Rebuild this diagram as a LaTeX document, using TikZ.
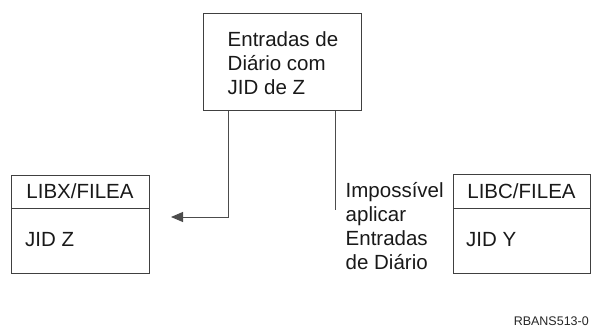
\documentclass[tikz,border=0pt]{standalone}
\usepackage{fontspec}
\setmainfont{Liberation Sans}
\usetikzlibrary{arrows.meta}
\begin{document}
\begin{tikzpicture}[x=1pt,y=-1pt,
  lbl/.style={inner sep=0pt, anchor=base west, align=left,
    font=\fontsize{20.5}{24}\selectfont, text=black!90},
  ctr/.style={inner sep=0pt, anchor=base,
    font=\fontsize{20.5}{24}\selectfont, text=black!90},
  box/.style={draw=black!75, line width=0.9pt, inner sep=0pt, anchor=north west},
  conn/.style={draw=black!70, line width=0.9pt},
  tip/.style={-{Triangle[length=12pt,width=10pt]}}]
\useasboundingbox (0,0) rectangle (591,327);
% top box
\node[box, minimum width=158pt, minimum height=97pt] (top) at (203,13) {};
\node[lbl] (toptxt) at (227.5,94.5) {Entradas de\\Diário com\\JID de Z};
% left box
\node[box, minimum width=138pt, minimum height=33pt] (lhead) at (11,175) {};
\node[box, minimum width=138pt, minimum height=65pt] (lbody) at (11,208) {};
\node[ctr] (lheadtxt) at (80,198.3) {LIBX/FILEA};
\node[lbl] (lbodytxt) at (25,246) {JID Z};
% right box
\node[box, minimum width=137pt, minimum height=34pt] (rhead) at (452.5,174.3) {};
\node[box, minimum width=137pt, minimum height=65pt] (rbody) at (452.5,208.3) {};
\node[ctr] (rheadtxt) at (521.5,198.3) {LIBC/FILEA};
\node[lbl] (rbodytxt) at (466,246) {JID Y};
% note
\node[lbl] (note) at (345.5,269.5) {Impossível\\aplicar\\Entradas\\de Diário};
% connectors
\coordinate (arrowend) at (171,217);
\coordinate (rend) at (335,210);
\draw[conn, tip] ([xshift=25pt]top.south west) |- (arrowend);
\draw[conn] (top.south west -| rend) -- (rend);
% figure id
\node[inner sep=0pt, anchor=base east, font=\fontsize{12.5}{14}\selectfont, text=black!85] (figid) at (589,325) {RBANS513-0};
\end{tikzpicture}
\end{document}
